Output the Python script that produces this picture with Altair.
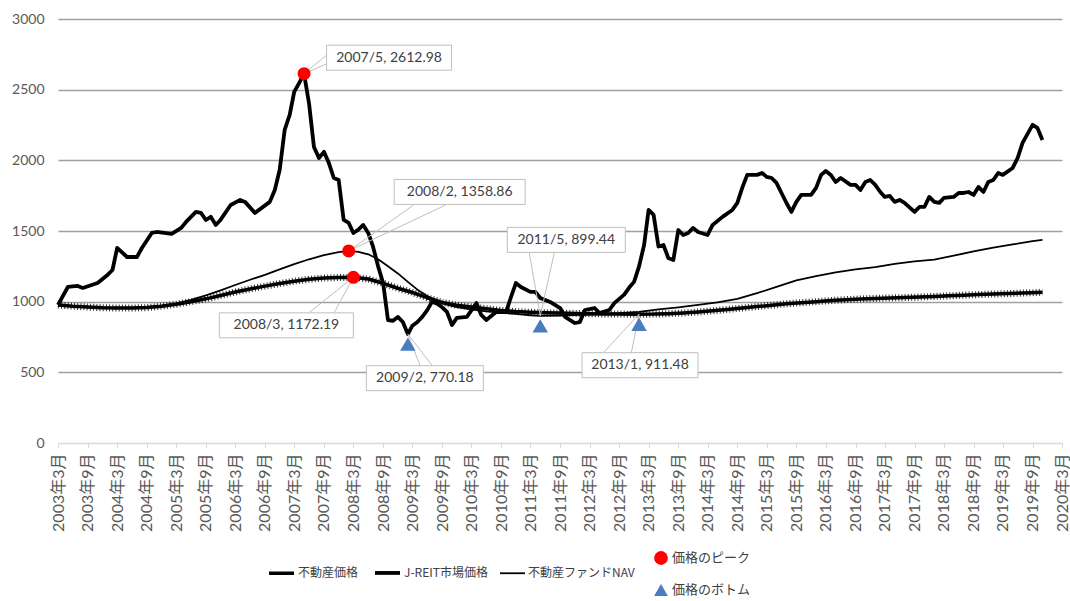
import altair as alt
import pandas as pd

# ---------------- data ----------------
series_names = ["不動産価格", "J-REIT市場価格", "不動産ファンドNAV"]

jreit_dates = [
    "2003-03", "2003-05", "2003-07", "2003-08", "2003-11",
    "2004-01", "2004-02", "2004-03", "2004-05", "2004-07", "2004-08", "2004-10", "2004-11",
    "2005-02", "2005-04", "2005-05", "2005-07", "2005-08", "2005-09", "2005-10", "2005-11", "2005-12",
    "2006-02", "2006-04", "2006-05", "2006-07", "2006-10", "2006-11", "2006-12",
    "2007-01", "2007-02", "2007-03", "2007-04", "2007-05", "2007-06", "2007-07", "2007-08", "2007-09",
    "2007-10", "2007-11", "2007-12",
    "2008-01", "2008-02", "2008-03", "2008-04", "2008-05", "2008-06", "2008-07", "2008-08", "2008-09",
    "2008-10", "2008-11", "2008-12",
    "2009-01", "2009-02", "2009-03", "2009-04", "2009-05", "2009-06", "2009-07", "2009-08", "2009-09",
    "2009-10", "2009-11", "2009-12",
    "2010-02", "2010-04", "2010-05", "2010-06", "2010-08", "2010-10", "2010-11", "2010-12",
    "2011-01", "2011-03", "2011-04", "2011-05", "2011-07", "2011-09", "2011-10", "2011-12",
    "2012-01", "2012-02", "2012-04", "2012-05", "2012-07", "2012-08", "2012-10", "2012-11", "2012-12",
    "2013-01", "2013-02", "2013-03", "2013-04", "2013-05", "2013-06", "2013-07", "2013-08", "2013-09",
    "2013-10", "2013-11", "2013-12",
    "2014-01", "2014-03", "2014-04", "2014-06", "2014-08", "2014-09", "2014-10", "2014-11",
    "2015-01", "2015-02", "2015-03", "2015-04", "2015-05", "2015-06", "2015-07", "2015-08", "2015-09",
    "2015-10", "2015-12",
    "2016-01", "2016-02", "2016-03", "2016-04", "2016-05", "2016-06", "2016-08", "2016-09", "2016-10",
    "2016-11", "2016-12",
    "2017-01", "2017-02", "2017-03", "2017-04", "2017-05", "2017-06", "2017-07", "2017-09", "2017-10",
    "2017-11", "2017-12",
    "2018-01", "2018-02", "2018-03", "2018-05", "2018-06", "2018-07", "2018-08", "2018-09", "2018-10",
    "2018-11", "2018-12",
    "2019-01", "2019-02", "2019-03", "2019-05", "2019-06", "2019-07", "2019-09", "2019-10", "2019-11",
]
jreit_values = [
    977, 1104, 1111, 1097, 1132,
    1189, 1224, 1380, 1316, 1316, 1380, 1486, 1493,
    1479, 1522, 1564, 1635, 1628, 1578, 1600, 1543, 1580,
    1684, 1720, 1706, 1628, 1706, 1790, 1932,
    2215, 2321, 2484, 2548, 2612.98, 2400, 2095, 2017, 2060,
    1982, 1875, 1861,
    1578, 1557, 1486, 1510, 1543, 1486, 1387, 1250, 1132,
    870, 865, 892,
    856, 770.18, 830, 856, 892, 940, 1000, 985, 960,
    927, 835, 885,
    892, 990, 906, 870, 927, 927, 1033, 1132,
    1104, 1069, 1069, 1026, 998, 955, 892, 849,
    856, 941, 955, 920, 941, 990, 1050, 1100, 1140,
    1250, 1400, 1649, 1614, 1390, 1401, 1309, 1295, 1507,
    1472, 1486, 1522,
    1493, 1472, 1543, 1600, 1649, 1699, 1805, 1897,
    1897, 1911, 1883, 1875, 1840, 1769, 1700, 1635, 1706,
    1755, 1755,
    1805, 1897, 1925, 1897, 1847, 1875, 1826, 1826, 1790,
    1847, 1861,
    1826, 1776, 1741, 1748, 1706, 1720, 1699, 1635, 1670,
    1670, 1741,
    1706, 1699, 1734, 1741, 1769, 1769, 1776, 1755, 1812,
    1776, 1847,
    1861, 1911, 1897, 1946, 2017, 2123, 2251, 2229, 2144,
]

price_dates = [
    "2003-03", "2003-06", "2003-09", "2003-12", "2004-03", "2004-06", "2004-09", "2004-12",
    "2005-03", "2005-06", "2005-09", "2005-12", "2006-03", "2006-06", "2006-09", "2006-12",
    "2007-03", "2007-06", "2007-09", "2007-12", "2008-03", "2008-06", "2008-09", "2008-12",
    "2009-03", "2009-06", "2009-09", "2009-12", "2010-03", "2010-06", "2010-09", "2010-12",
    "2011-03", "2011-06", "2011-09", "2011-12", "2012-03", "2012-06", "2012-09", "2013-01",
    "2013-04", "2013-07", "2013-10", "2014-01", "2014-04", "2014-07", "2014-10", "2015-01",
    "2015-04", "2015-07", "2015-10", "2016-01", "2016-04", "2016-07", "2016-10", "2017-01",
    "2017-04", "2017-07", "2017-10", "2018-01", "2018-04", "2018-07", "2018-10", "2019-01",
    "2019-04", "2019-07", "2019-10", "2019-11",
]
price_values = [
    977, 968, 962, 957, 955, 955, 958, 968,
    982, 1000, 1020, 1044, 1068, 1090, 1110, 1128,
    1145, 1158, 1167, 1171, 1172.19, 1160, 1130, 1095,
    1065, 1028, 995, 975, 963, 950, 938, 930,
    925, 921, 919, 917, 915, 913, 912, 911.48,
    912, 915, 920, 927, 935, 945, 955, 965,
    975, 985, 993, 1000, 1008, 1014, 1019, 1023,
    1026, 1029, 1033, 1037, 1041, 1046, 1050, 1054,
    1057, 1061, 1065, 1067,
]

nav_dates = [
    "2003-03", "2003-06", "2003-09", "2003-12", "2004-03", "2004-06", "2004-09", "2004-12",
    "2005-03", "2005-06", "2005-09", "2005-12", "2006-03", "2006-06", "2006-09", "2006-12",
    "2007-03", "2007-06", "2007-09", "2007-12", "2008-02", "2008-04", "2008-06", "2008-08",
    "2008-10", "2008-12", "2009-02", "2009-04", "2009-06", "2009-09", "2009-12", "2010-03",
    "2010-06", "2010-09", "2010-12", "2011-03", "2011-05", "2011-09", "2012-01", "2012-05",
    "2012-09", "2013-01", "2013-05", "2013-09", "2014-01", "2014-05", "2014-09", "2015-01",
    "2015-05", "2015-09", "2016-01", "2016-05", "2016-09", "2017-01", "2017-05", "2017-09",
    "2018-01", "2018-05", "2018-09", "2019-01", "2019-05", "2019-09", "2019-11",
]
nav_values = [
    975, 967, 962, 958, 957, 958, 962, 972,
    988, 1012, 1045, 1080, 1118, 1155, 1190, 1228,
    1265, 1300, 1330, 1350, 1358.86, 1352, 1335, 1300,
    1250, 1200, 1140, 1085, 1040, 988, 962, 945,
    932, 922, 913, 904, 899.44, 902, 906, 912,
    918, 928, 945, 960, 977, 995, 1020, 1060,
    1105, 1150, 1180, 1207, 1228, 1245, 1268, 1285,
    1298, 1325, 1355, 1382, 1405, 1428, 1437,
]

marker_dates = ["2007-05", "2008-02", "2008-03", "2009-02", "2011-05", "2013-01"]
marker_values = [2612.98, 1358.86, 1172.19, 770.18, 899.44, 911.48]
marker_kinds = ["価格のピーク", "価格のピーク", "価格のピーク",
                "価格のボトム", "価格のボトム", "価格のボトム"]
marker_kind_names = ["価格のピーク", "価格のボトム"]

# x-axis tick labels: every six months, 2003年3月 … 2020年3月
tick_months = [f"{y}-{m:02d}" for y in range(2003, 2021) for m in (3, 9)
               if (y, m) <= (2020, 3)]

# ---------------- callout layout (pixel offsets from the marked point) ----------------
# (box centre dx, box centre dy, box width, wedge base 1, wedge base 2)
callout_layout = [
    (85, -16, 125, (23, -19), (23, -10)),
    (111, -59, 131, (65, -46), (97, -46)),
    (-67, 48, 134, (-44, 35), (-19, 35)),
    (17, 44, 117, (12, 31), (24, 31)),
    (26, -76, 118, (-11, -63), (14, -63)),
    (1, 51, 116, (-37, 40), (-8, 40)),
]
BOX_H = 25

FONT = "Lato, 'Noto Sans CJK JP', sans-serif"
FONT_JP = "'Noto Sans CJK JP', Lato, sans-serif"
GRAY_TXT = "#595959"


def to_date(s):
    return s + "-01"


def to_ms(s):
    return int(pd.Timestamp(to_date(s), tz="UTC").value // 10**6)


lines_df = pd.concat([
    pd.DataFrame({"date": [to_date(d) for d in price_dates], "value": price_values,
                  "series": series_names[0]}),
    pd.DataFrame({"date": [to_date(d) for d in jreit_dates], "value": jreit_values,
                  "series": series_names[1]}),
    pd.DataFrame({"date": [to_date(d) for d in nav_dates], "value": nav_values,
                  "series": series_names[2]}),
], ignore_index=True)

price_df = lines_df[lines_df["series"] == series_names[0]]

markers_df = pd.DataFrame({
    "date": [to_date(d) for d in marker_dates],
    "value": marker_values,
    "kind": marker_kinds,
})
markers_df["label"] = [
    f"{d.split('-')[0]}/{int(d.split('-')[1])}, {v:.2f}"
    for d, v in zip(marker_dates, marker_values)
]

# ---------------- scales / axes ----------------
x_scale = alt.Scale(type="utc", domain=[to_ms(tick_months[0]), to_ms(tick_months[-1])])
y_scale = alt.Scale(domain=[0, 3000], nice=False, zero=True)

x_axis = alt.Axis(
    title=None, values=[to_ms(t) for t in tick_months],
    labelExpr="utcyear(datum.value) + '年' + (utcmonth(datum.value) + 1) + '月'",
    labelAngle=-90, labelFont=FONT, labelFontSize=16, labelColor=GRAY_TXT,
    labelOverlap=False, labelFlush=False, labelPadding=5, labelBound=False,
    labelSeparation=0,
    domainColor="#d9d9d9", domainWidth=1, tickColor="#d9d9d9", tickSize=5,
    grid=False,
)
y_axis = alt.Axis(
    title=None, values=[0, 500, 1000, 1500, 2000, 2500, 3000], format="d",
    labelFont=FONT, labelFontSize=14, labelColor=GRAY_TXT, labelPadding=14,
    domain=False, ticks=False, grid=True,
    gridColor={"condition": {"test": "datum.value === 0", "value": "#d9d9d9"}, "value": "#a0a0a0"},
    gridWidth=1.5,
)

X = alt.X("date:T", scale=x_scale, axis=x_axis)
Y = alt.Y("value:Q", scale=y_scale, axis=y_axis)
Xp = X
Yp = Y

line_legend = alt.Legend(
    orient="none", legendX=209, legendY=539, direction="horizontal", title=None,
    symbolType="stroke", symbolSize=625, labelFont=FONT_JP, labelFontSize=12,
    labelColor="#404040", columnPadding=8, labelOffset=2,
)

lines = alt.Chart(lines_df).mark_line(strokeJoin="round").encode(
    x=X, y=Y,
    color=alt.Color("series:N", scale=alt.Scale(domain=series_names,
                                                range=["#000000", "#000000", "#000000"]),
                    legend=line_legend),
    strokeWidth=alt.StrokeWidth("series:N", scale=alt.Scale(type="ordinal", domain=series_names,
                                                            range=[3.5, 3.8, 1.8]),
                                legend=line_legend),
)

# hatch that imitates the small markers of the 不動産価格 line
hatch = alt.Chart(price_df).mark_line(color="#000000", strokeWidth=7,
                                      strokeDash=[1, 2.2], opacity=0.8).encode(x=Xp, y=Yp)

marker_legend = alt.Legend(
    orient="none", legendX=596, legendY=532, direction="vertical", title=None,
    symbolSize=190, symbolOpacity=1, labelFont=FONT_JP, labelFontSize=13,
    labelColor="#404040", rowPadding=18, labelOffset=4, symbolStrokeWidth=0,
)
fill_enc = alt.Fill("kind:N", scale=alt.Scale(domain=marker_kind_names,
                                              range=["#ff0000", "#4a7cc0"]),
                    legend=marker_legend)
shape_enc = alt.Shape("kind:N", scale=alt.Scale(domain=marker_kind_names,
                                                range=["circle", "triangle-up"]),
                      legend=marker_legend)

# ---------------- callouts ----------------
callout_layers = []
for i, (bx, by, bw, b1, b2) in enumerate(callout_layout):
    row = markers_df.iloc[[i]]
    base = alt.Chart(row)
    for (wx, wy) in (b1, b2):
        callout_layers.append(
            base.mark_rule(color="#bfbfbf", strokeWidth=1, x2Offset=wx, y2Offset=wy).encode(
                x=Xp, y=Yp, x2="date:T", y2="value:Q")
        )
    half = (BOX_H / 2) / (bw / 2)
    path = f"M-1,-{half:.4f}L1,-{half:.4f}L1,{half:.4f}L-1,{half:.4f}Z"
    callout_layers.append(
        base.mark_point(shape=path, size=bw * bw, filled=True, fill="#ffffff", opacity=1,
                        stroke="#bfbfbf", strokeWidth=1, xOffset=bx, yOffset=by).encode(x=Xp, y=Yp)
    )
    callout_layers.append(
        base.mark_text(dx=bx, dy=by, font=FONT, fontSize=14, color="#404040",
                       align="center", baseline="middle").encode(x=Xp, y=Yp, text="label:N")
    )

peaks = alt.Chart(markers_df).transform_filter(
    alt.datum.kind == "価格のピーク"
).mark_point(filled=True, opacity=1, size=170, strokeWidth=0).encode(
    x=Xp, y=Yp, fill=fill_enc, shape=shape_enc)

bottoms = alt.Chart(markers_df).transform_filter(
    alt.datum.kind == "価格のボトム"
).mark_point(filled=True, opacity=1, size=240, strokeWidth=0, yOffset=10).encode(
    x=Xp, y=Yp, fill=fill_enc, shape=shape_enc)

chart = alt.layer(lines, hatch, *callout_layers, peaks, bottoms).properties(
    width=1004, height=424,
    autosize=alt.AutoSizeParams(type="none"),
    padding={"left": 58, "top": 19, "right": 8, "bottom": 158},
    background="#ffffff",
).configure_view(stroke=None).configure_axisX(labelOverlap=False)

chart.save("out.html", embed_options={"renderer": "svg", "actions": False})
